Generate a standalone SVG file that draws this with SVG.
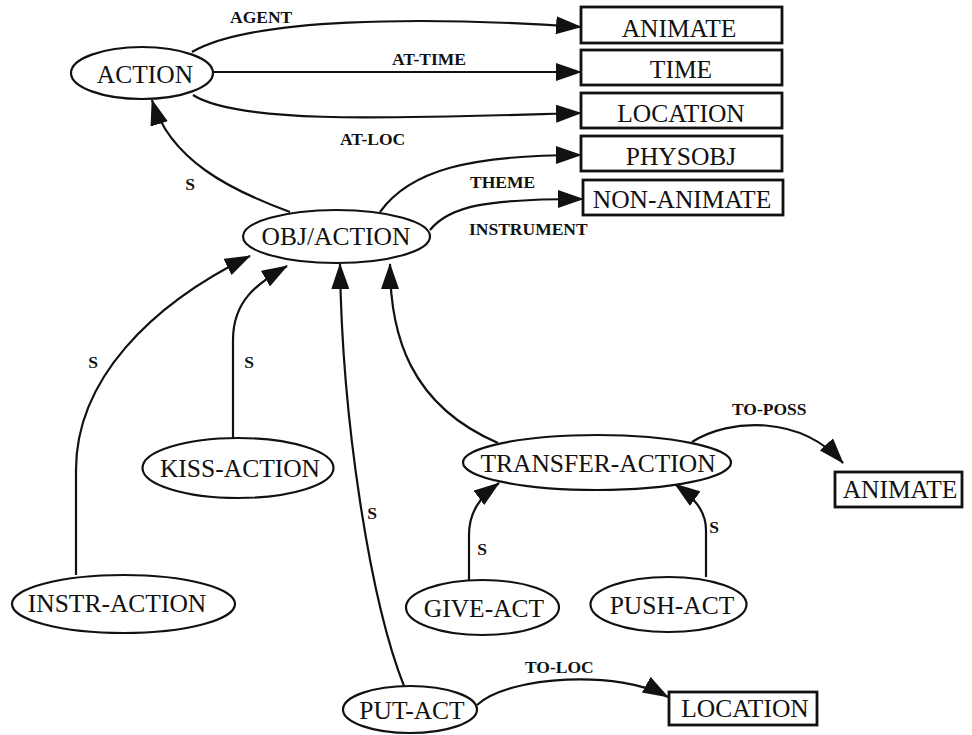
<svg xmlns="http://www.w3.org/2000/svg" width="972" height="735" viewBox="0 0 972 735">
  <style>
    .node ellipse { fill: #fff; stroke: #111; stroke-width: 2.2; }
    .node rect { fill: #fff; stroke: #111; stroke-width: 2.8; }
    .node text { font-family: "Liberation Serif", "Times New Roman", serif; font-size: 25.5px; fill: #111; text-anchor: middle; }
    .edges path { fill: none; stroke: #111; stroke-width: 2.2; marker-end: url(#arrow); }
    .lbl { font-family: "Liberation Serif", "Times New Roman", serif; font-size: 17.5px; font-weight: bold; fill: #111; }
    .mid { text-anchor: middle; }
  </style>
  <defs>
    <marker id="arrow" markerUnits="userSpaceOnUse" markerWidth="26" markerHeight="18" viewBox="0 0 26 18" refX="25" refY="9" orient="auto">
      <path d="M0,0 L26,9 L0,18 z" fill="#111"/>
    </marker>
  </defs>
  <rect width="972" height="735" fill="#fff"/>

  <!-- connectors -->
  <g id="edges" class="edges">
    <path id="e-agent" d="M192,52 C250,18 420,16 581,27"/>
    <path id="e-at-time" d="M213,72 L581,72"/>
    <path id="e-at-loc" d="M193,95 C240,125 400,118 581,113"/>
    <path id="e-objaction-action" d="M290,212 C230,190 170,160 152,100"/>
    <path id="e-theme" d="M380,212 C410,170 470,155 581,155"/>
    <path id="e-instrument" d="M430,230 C450,205 490,199 583,199"/>
    <path id="e-instr-objaction" d="M76,575 L76,470 C76,380 150,305 250,256"/>
    <path id="e-kiss-objaction" d="M233,438 L233,340 C233,300 258,283 287,266"/>
    <path id="e-put-objaction" d="M404,686 C370,600 342,420 340,264"/>
    <path id="e-transfer-objaction" d="M498,443 C410,405 390,335 390,264"/>
    <path id="e-give-transfer" d="M469,580 L469,535 C469,512 480,497 499,483"/>
    <path id="e-push-transfer" d="M706,577 L706,530 C706,510 693,497 675,484"/>
    <path id="e-to-poss" d="M692,442 C730,418 800,415 843,463"/>
    <path id="e-to-loc" d="M477,705 C510,675 620,670 668,697"/>
  </g>

  <!-- connector labels -->
  <g id="edge-labels">
    <text class="lbl" x="230" y="23">AGENT</text>
    <text class="lbl" x="392" y="65">AT-TIME</text>
    <text class="lbl" x="340" y="145">AT-LOC</text>
    <text class="lbl mid" x="190" y="190">S</text>
    <text class="lbl" x="470" y="188">THEME</text>
    <text class="lbl" x="469" y="235">INSTRUMENT</text>
    <text class="lbl mid" x="93" y="368">S</text>
    <text class="lbl mid" x="249" y="368">S</text>
    <text class="lbl mid" x="372" y="519">S</text>
    <text class="lbl mid" x="482" y="555">S</text>
    <text class="lbl mid" x="714" y="533">S</text>
    <text class="lbl" x="732" y="415">TO-POSS</text>
    <text class="lbl" x="525" y="673">TO-LOC</text>
  </g>

  <!-- concept nodes -->
  <g id="n-action" class="node">
    <ellipse cx="142" cy="73" rx="71" ry="26"/>
    <text x="145" y="83">ACTION</text>
  </g>
  <g id="n-objaction" class="node">
    <ellipse cx="336.5" cy="236.5" rx="93.5" ry="26.5"/>
    <text x="336" y="245">OBJ/ACTION</text>
  </g>
  <g id="n-kiss" class="node">
    <ellipse cx="238" cy="468" rx="95.5" ry="30"/>
    <text x="240" y="477">KISS-ACTION</text>
  </g>
  <g id="n-instr" class="node">
    <ellipse cx="123.5" cy="604" rx="111.5" ry="29"/>
    <text x="117" y="612">INSTR-ACTION</text>
  </g>
  <g id="n-transfer" class="node">
    <ellipse cx="597" cy="462.5" rx="134" ry="27.5"/>
    <text x="598" y="472">TRANSFER-ACTION</text>
  </g>
  <g id="n-give" class="node">
    <ellipse cx="482.5" cy="607.5" rx="76.5" ry="27.5"/>
    <text x="484" y="617">GIVE-ACT</text>
  </g>
  <g id="n-push" class="node">
    <ellipse cx="668.5" cy="604.5" rx="78" ry="27.5"/>
    <text x="672" y="614">PUSH-ACT</text>
  </g>
  <g id="n-put" class="node">
    <ellipse cx="410" cy="709.5" rx="67" ry="23.5"/>
    <text x="412" y="719">PUT-ACT</text>
  </g>

  <!-- type boxes -->
  <g id="t-animate" class="node">
    <rect x="581" y="7" width="201" height="36"/>
    <text x="679" y="37">ANIMATE</text>
  </g>
  <g id="t-time" class="node">
    <rect x="581" y="50" width="201" height="35"/>
    <text x="681" y="78">TIME</text>
  </g>
  <g id="t-location" class="node">
    <rect x="581" y="93" width="201" height="35"/>
    <text x="681" y="122">LOCATION</text>
  </g>
  <g id="t-physobj" class="node">
    <rect x="581" y="136" width="201" height="35"/>
    <text x="681" y="165">PHYSOBJ</text>
  </g>
  <g id="t-nonanimate" class="node">
    <rect x="583" y="180" width="200" height="35"/>
    <text x="682" y="208">NON-ANIMATE</text>
  </g>
  <g id="t-animate2" class="node">
    <rect x="835" y="472" width="127" height="35"/>
    <text x="900" y="498">ANIMATE</text>
  </g>
  <g id="t-location2" class="node">
    <rect x="669" y="692" width="148" height="33"/>
    <text x="745" y="717">LOCATION</text>
  </g>
</svg>
